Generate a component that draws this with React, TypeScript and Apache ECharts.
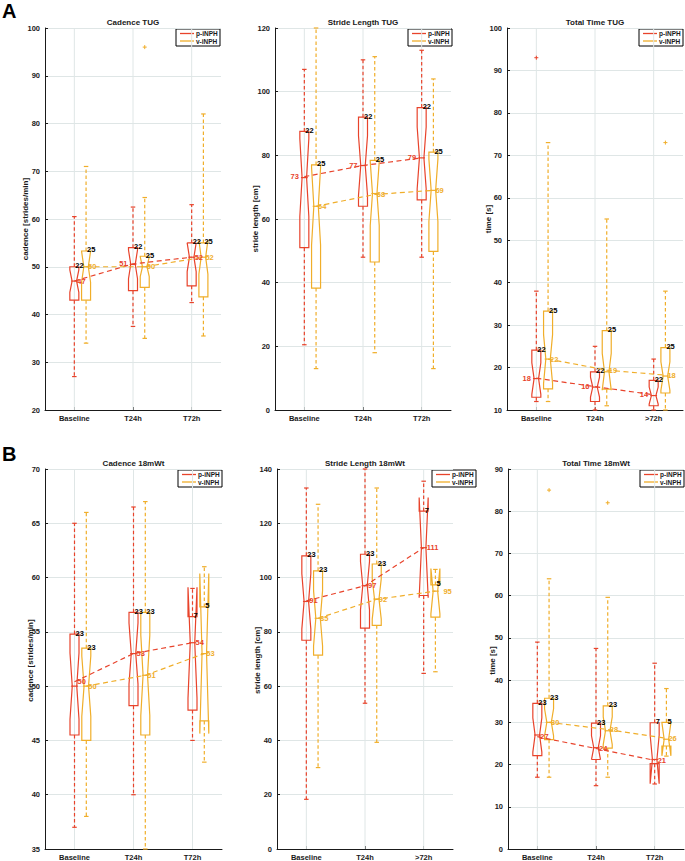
import React, { useEffect, useRef } from 'react';
import * as echarts from 'echarts';

const RED = '#e8432b';
const ORANGE = '#f0ae2a';
const GRID = '#dfe6e6';
const INK = '#1a1a1a';
const FONT = '"Liberation Sans", Arial, Helvetica, sans-serif';

// Box summaries per category: [lower whisker, q1, median, q3, upper whisker]
// ---------- A1: Cadence TUG ----------
const cadenceTugCategories = ['Baseline', 'T24h', 'T72h'];
const cadenceTugAxis = [20, 100, 10];
const cadenceTugP = [[27, 43, 47, 50, 60.5], [37.5, 45, 50.5, 54, 62.5], [42.5, 46, 52, 55, 63]];
const cadenceTugV = [[34, 43, 50, 53.3, 71], [35, 45.7, 50, 52.2, 64.5], [35.5, 43.7, 52, 55, 82]];
const cadenceTugNP = [22, 22, 22];
const cadenceTugNV = [25, 25, 25];
const cadenceTugMeanP = [47, 50.6, 52];
const cadenceTugMeanV = [50, 50, 52];
const cadenceTugOutP: number[][] = [];
const cadenceTugOutV = [[1, 96]];

// ---------- A2: Stride Length TUG ----------
const strideTugCategories = ['Baseline', 'T24h', 'T72h'];
const strideTugAxis = [0, 120, 20];
const strideTugP = [[20.5, 51, 73, 87.5, 107], [48, 64, 76.8, 92, 110], [48, 66, 79.2, 95, 113]];
const strideTugV = [[13, 38.3, 64, 77, 120], [18, 46.5, 68, 78.4, 111], [13, 49.8, 69, 81, 104]];
const strideTugNP = [22, 22, 22];
const strideTugNV = [25, 25, 25];
const strideTugMeanP = [73.3, 76.8, 79.2];
const strideTugMeanV = [64, 67.7, 69];
const strideTugOutP: number[][] = [];
const strideTugOutV: number[][] = [];

// ---------- A3: Total Time TUG ----------
const timeTugCategories = ['Baseline', 'T24h', '>72h'];
const timeTugAxis = [10, 100, 10];
const timeTugP = [[12, 13, 17.4, 24.1, 38], [10, 12, 15.4, 19, 25], [10, 11, 13.4, 17, 22]];
const timeTugV = [[12, 15, 22, 33.3, 73], [11, 14.9, 19, 28.7, 55], [10, 14, 18, 24.7, 38]];
const timeTugNP = [22, 22, 22];
const timeTugNV = [25, 25, 25];
const timeTugMeanP = [17.5, 15.5, 13.6];
const timeTugMeanV = [22, 19.4, 18.2];
const timeTugOutP = [[0, 93]];
const timeTugOutV = [[2, 73]];

// ---------- B1: Cadence 18mWt ----------
const cadence18Categories = ['Baseline', 'T24h', 'T72h'];
const cadence18Axis = [35, 70, 5];
const cadence18P = [[37, 45.5, 50, 54.8, 65], [40, 48.2, 53, 56.8, 66.5], [45, 47.8, 54, 56.4, 59]];
const cadence18V = [[38, 45, 50, 53.5, 66], [35, 45.5, 51, 56.8, 67], [43, 46.8, 53, 57.3, 61]];
const cadence18NP = [23, 23, 7];
const cadence18NV = [23, 23, 5];
const cadence18MeanP = [50.4, 53, 54];
const cadence18MeanV = [50, 51, 53];
const cadence18OutP: number[][] = [];
const cadence18OutV: number[][] = [];

// ---------- B2: Stride Length 18mWt ----------
const stride18Categories = ['Baseline', 'T24h', '>72h'];
const stride18Axis = [0, 140, 20];
const stride18P = [[18.3, 76.9, 91.2, 108, 133], [53.7, 81.4, 97, 108.6, 140], [64.7, 93.4, 111, 124.5, 135.5]];
const stride18V = [[30, 71.4, 85, 102.5, 127], [39.3, 82.4, 92.1, 105, 133], [65.3, 85.4, 95, 97.3, 103]];
const stride18NP = [23, 23, 7];
const stride18NV = [23, 23, 5];
const stride18MeanP = [91.4, 97, 111];
const stride18MeanV = [85, 92, 95];
const stride18OutP: number[][] = [];
const stride18OutV: number[][] = [];

// ---------- B3: Total Time 18mWt ----------
const time18Categories = ['Baseline', 'T24h', 'T72h'];
const time18Axis = [0, 90, 10];
const time18P = [[17, 22.1, 27, 34.5, 49], [15, 21.2, 24, 29.8, 47.5], [15.4, 20.2, 21.2, 29.9, 44]];
const time18V = [[17, 25.9, 30, 35.7, 64], [17, 23.9, 28, 33.9, 59.6], [22, 24.4, 26, 30, 38]];
const time18NP = [23, 23, 7];
const time18NV = [23, 23, 5];
const time18MeanP = [26.6, 23.8, 21];
const time18MeanV = [30, 28.3, 26.2];
const time18OutP: number[][] = [];
const time18OutV = [[0, 85], [1, 82]];

const panels = [
  { title: 'Cadence TUG', yName: 'cadence [strides/min]', cats: cadenceTugCategories, axis: cadenceTugAxis, p: cadenceTugP, v: cadenceTugV, nP: cadenceTugNP, nV: cadenceTugNV, meanP: cadenceTugMeanP, meanV: cadenceTugMeanV, outP: cadenceTugOutP, outV: cadenceTugOutV },
  { title: 'Stride Length TUG', yName: 'stride length [cm]', cats: strideTugCategories, axis: strideTugAxis, p: strideTugP, v: strideTugV, nP: strideTugNP, nV: strideTugNV, meanP: strideTugMeanP, meanV: strideTugMeanV, outP: strideTugOutP, outV: strideTugOutV },
  { title: 'Total Time TUG', yName: 'time [s]', cats: timeTugCategories, axis: timeTugAxis, p: timeTugP, v: timeTugV, nP: timeTugNP, nV: timeTugNV, meanP: timeTugMeanP, meanV: timeTugMeanV, outP: timeTugOutP, outV: timeTugOutV },
  { title: 'Cadence 18mWt', yName: 'cadence [strides/min]', cats: cadence18Categories, axis: cadence18Axis, p: cadence18P, v: cadence18V, nP: cadence18NP, nV: cadence18NV, meanP: cadence18MeanP, meanV: cadence18MeanV, outP: cadence18OutP, outV: cadence18OutV },
  { title: 'Stride Length 18mWt', yName: 'stride length [cm]', cats: stride18Categories, axis: stride18Axis, p: stride18P, v: stride18V, nP: stride18NP, nV: stride18NV, meanP: stride18MeanP, meanV: stride18MeanV, outP: stride18OutP, outV: stride18OutV },
  { title: 'Total Time 18mWt', yName: 'time [s]', cats: time18Categories, axis: time18Axis, p: time18P, v: time18V, nP: time18NP, nV: time18NV, meanP: time18MeanP, meanV: time18MeanV, outP: time18OutP, outV: time18OutV },
];

// Layout (pixels) – kept apart from the data. Label offsets are in px from the box centre.
const layouts = [
  { left: 45, top: 28, width: 176, height: 382, legendX: 176, legendY: 29, nameX: 25, pOff: [3, -5.5, 3], vOff: [2, 2, 2] },
  { left: 275, top: 28, width: 176, height: 382, legendX: 408, legendY: 29, nameX: 255, pOff: [-5.5, -5.5, -5.5], vOff: [2, 2, 2] },
  { left: 507, top: 28, width: 176, height: 382, legendX: 639, legendY: 29, nameX: 488, pOff: [-5.5, -5.5, -5.5], vOff: [2, 2, 2] },
  { left: 45, top: 469, width: 177, height: 383, legendX: 178, legendY: 470, nameX: 30, pOff: [3, 3, 3], vOff: [2, 2, 2] },
  { left: 277, top: 469, width: 176, height: 383, legendX: 432, legendY: 470, nameX: 257, pOff: [3, 3, 3], vOff: [2, 2, 8] },
  { left: 508, top: 469, width: 176, height: 383, legendX: 640, legendY: 470, nameX: 492, pOff: [3, 3, 3], vOff: [2, 2, 2] },
];

const BOX_HALF = 4.5;
const V_SHIFT = 0.2;
const LW = 1.2;

function makeBoxRender(color: string, shift: number) {
  return (params: any, api: any) => {
    const i = api.value(0);
    const lw = api.value(1), q1 = api.value(2), med = api.value(3), q3 = api.value(4), uw = api.value(5), n = api.value(6);
    const band = api.size([1, 0])[0];
    const cx = api.coord([i, med])[0] + band * shift;
    const Y = (v: number) => api.coord([i, v])[1];
    const h = BOX_HALF;
    const notch = (1.57 * (q3 - q1)) / Math.sqrt(n);
    const lo = med - notch, hi = med + notch;
    const pts = [
      [cx - h, Y(q1)], [cx - h, Y(lo)], [cx - h / 2, Y(med)], [cx - h, Y(hi)], [cx - h, Y(q3)],
      [cx + h, Y(q3)], [cx + h, Y(hi)], [cx + h / 2, Y(med)], [cx + h, Y(lo)], [cx + h, Y(q1)],
    ];
    const dash = { stroke: color, lineWidth: LW, lineDash: [3.5, 2.5], fill: 'none' };
    const solid = { stroke: color, lineWidth: LW, fill: 'none' };
    return {
      type: 'group',
      children: [
        { type: 'line', shape: { x1: cx, y1: Y(q3), x2: cx, y2: Y(uw) }, style: dash },
        { type: 'line', shape: { x1: cx, y1: Y(q1), x2: cx, y2: Y(lw) }, style: dash },
        { type: 'line', shape: { x1: cx - h / 2, y1: Y(uw), x2: cx + h / 2, y2: Y(uw) }, style: solid },
        { type: 'line', shape: { x1: cx - h / 2, y1: Y(lw), x2: cx + h / 2, y2: Y(lw) }, style: solid },
        { type: 'polygon', shape: { points: pts }, style: { fill: 'none', stroke: color, lineWidth: LW } },
        { type: 'line', shape: { x1: cx - h * 0.75, y1: Y(med), x2: cx + h * 0.75, y2: Y(med) }, style: solid },
        {
          type: 'text', z2: 20,
          style: { text: String(n), x: cx + 1, y: Y(q3) - 1, fill: '#000', font: `bold 7.5px ${FONT}`, align: 'left', verticalAlign: 'middle', textAlign: 'left', textVerticalAlign: 'middle' },
        },
      ],
    };
  };
}

function makeTrendRender(color: string, shift: number, offs: number[]) {
  return (params: any, api: any) => {
    const band = api.size([1, 0])[0];
    const pts: number[][] = [];
    const vals: number[] = [];
    for (let k = 0; k < 3; k++) {
      const v = api.value(k + 1);
      const c = api.coord([k, v]);
      pts.push([c[0] + band * shift, c[1]]);
      vals.push(v);
    }
    const children: any[] = [
      { type: 'polyline', shape: { points: pts }, style: { stroke: color, lineWidth: LW, lineDash: [5, 3.5], fill: 'none' } },
    ];
    pts.forEach((pt, k) => {
      const left = offs[k] < 0;
      children.push({
        type: 'text', z2: 15,
        style: { text: String(Math.round(vals[k])), x: pt[0] + offs[k], y: pt[1], fill: color, font: `bold 7.5px ${FONT}`, align: left ? 'right' : 'left', textAlign: left ? 'right' : 'left', verticalAlign: 'middle', textVerticalAlign: 'middle' },
      });
    });
    return { type: 'group', children };
  };
}

function makeOutlierRender(color: string, shift: number) {
  return (params: any, api: any) => {
    const band = api.size([1, 0])[0];
    const c = api.coord([api.value(0), api.value(1)]);
    const x = c[0] + band * shift, y = c[1];
    const s = 2;
    const st = { stroke: color, lineWidth: 1 };
    return {
      type: 'group',
      children: [
        { type: 'line', shape: { x1: x - s, y1: y, x2: x + s, y2: y }, style: st },
        { type: 'line', shape: { x1: x, y1: y - s, x2: x, y2: y + s }, style: st },
      ],
    };
  };
}

function vGridRender(params: any, api: any) {
  const cs = params.coordSys;
  const x = api.coord([api.value(0), 0])[0];
  return { type: 'line', shape: { x1: x, y1: cs.y, x2: x, y2: cs.y + cs.height }, style: { stroke: GRID, lineWidth: 1 } };
}

function legendGraphic(x: number, y: number) {
  const font = `bold 6.5px ${FONT}`;
  return {
    type: 'group', x, y, z: 100,
    children: [
      { type: 'rect', shape: { x: 0, y: 0, width: 44, height: 17 }, style: { fill: '#fff', stroke: '#000', lineWidth: 1 } },
      { type: 'line', shape: { x1: 4, y1: 4.5, x2: 18, y2: 4.5 }, style: { stroke: RED, lineWidth: 1.3 } },
      { type: 'line', shape: { x1: 4, y1: 12, x2: 18, y2: 12 }, style: { stroke: ORANGE, lineWidth: 1.3 } },
      { type: 'text', x: 20, y: 4.5, style: { text: 'p-iNPH', font, fill: INK, verticalAlign: 'middle', textVerticalAlign: 'middle' } },
      { type: 'text', x: 20, y: 12, style: { text: 'v-iNPH', font, fill: INK, verticalAlign: 'middle', textVerticalAlign: 'middle' } },
    ],
  };
}

export default function App() {
  const ref = useRef<HTMLDivElement>(null);
  useEffect(() => {
    document.body.style.margin = '0';
    if (!ref.current) return;
    const chart = echarts.init(ref.current, undefined, { renderer: 'svg' });

    const grids: any[] = [];
    const xAxes: any[] = [];
    const yAxes: any[] = [];
    const series: any[] = [];
    const graphics: any[] = [
      { type: 'text', x: 2, y: 1, style: { text: 'A', font: `bold 20px ${FONT}`, fill: '#000' } },
      { type: 'text', x: 2, y: 444, style: { text: 'B', font: `bold 20px ${FONT}`, fill: '#000' } },
    ];

    panels.forEach((pn, gi) => {
      const L = layouts[gi];
      grids.push({ left: L.left, top: L.top, width: L.width, height: L.height, containLabel: false });
      xAxes.push({
        type: 'category', gridIndex: gi, data: pn.cats,
        axisLine: { show: true, lineStyle: { color: INK, width: 1 } },
        axisTick: { show: true, alignWithLabel: true, inside: true, length: 3, lineStyle: { color: INK } },
        axisLabel: { color: INK, fontSize: 7.5, fontWeight: 'bold', fontFamily: FONT, margin: 4 },
        splitLine: { show: false },
      });
      yAxes.push({
        type: 'value', gridIndex: gi, min: pn.axis[0], max: pn.axis[1], interval: pn.axis[2],
        axisLine: { show: true, lineStyle: { color: INK, width: 1 } },
        axisTick: { show: true, inside: true, length: 3, lineStyle: { color: INK } },
        axisLabel: { color: INK, fontSize: 7.5, fontWeight: 'bold', fontFamily: FONT, margin: 5 },
        splitLine: { show: true, lineStyle: { color: GRID, width: 1 } },
      });
      const ax = { xAxisIndex: gi, yAxisIndex: gi };
      series.push({ type: 'custom', ...ax, z: 1, silent: true, renderItem: vGridRender, data: pn.cats.map((_, k) => [k]), encode: { x: 0 } });
      const boxData = (arr: number[][], ns: number[]) => arr.map((b, k) => [k, b[0], b[1], b[2], b[3], b[4], ns[k]]);
      series.push({ type: 'custom', name: 'p-iNPH', ...ax, z: 3, renderItem: makeBoxRender(RED, 0), data: boxData(pn.p, pn.nP), encode: { x: 0, y: [1, 2, 3, 4, 5] } });
      series.push({ type: 'custom', name: 'v-iNPH', ...ax, z: 3, renderItem: makeBoxRender(ORANGE, V_SHIFT), data: boxData(pn.v, pn.nV), encode: { x: 0, y: [1, 2, 3, 4, 5] } });
      series.push({ type: 'custom', ...ax, z: 4, renderItem: makeTrendRender(RED, 0, L.pOff), data: [[0, ...pn.meanP]], encode: { x: 0, y: [1, 2, 3] } });
      series.push({ type: 'custom', ...ax, z: 4, renderItem: makeTrendRender(ORANGE, V_SHIFT, L.vOff), data: [[0, ...pn.meanV]], encode: { x: 0, y: [1, 2, 3] } });
      if (pn.outP.length) series.push({ type: 'custom', ...ax, z: 3, renderItem: makeOutlierRender(RED, 0), data: pn.outP, encode: { x: 0, y: 1 } });
      if (pn.outV.length) series.push({ type: 'custom', ...ax, z: 3, renderItem: makeOutlierRender(ORANGE, V_SHIFT), data: pn.outV, encode: { x: 0, y: 1 } });

      graphics.push({ type: 'text', x: L.left + L.width / 2, y: L.top - 6, style: { text: pn.title, font: `bold 8px ${FONT}`, fill: INK, align: 'center', textAlign: 'center', verticalAlign: 'middle', textVerticalAlign: 'middle' } });
      graphics.push({ type: 'text', x: L.nameX, y: L.top + L.height / 2, rotation: Math.PI / 2, style: { text: pn.yName, font: `bold 8px ${FONT}`, fill: INK, align: 'center', textAlign: 'center', verticalAlign: 'middle', textVerticalAlign: 'middle' } });
      graphics.push(legendGraphic(L.legendX, L.legendY));
    });

    chart.setOption({
      animation: false,
      backgroundColor: '#fff',
      grid: grids,
      xAxis: xAxes,
      yAxis: yAxes,
      series,
      graphic: graphics,
    });
    return () => chart.dispose();
  }, []);
  return <div ref={ref} style={{ width: 685, height: 861 }} />;
}
